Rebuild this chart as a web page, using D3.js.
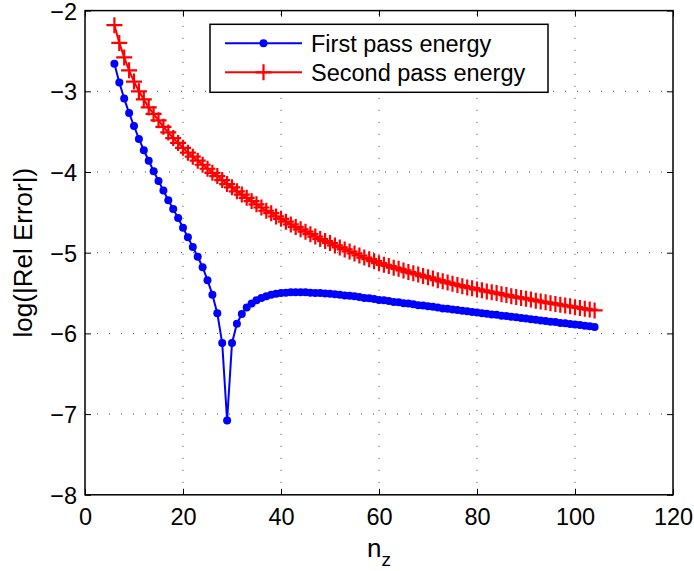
<!DOCTYPE html>
<html>
<head>
<meta charset="utf-8">
<script src="https://cdn.jsdelivr.net/npm/d3@7"></script>
<style>
  html, body { margin: 0; padding: 0; background: #fff; }
  svg { display: block; }
  text { font-family: "Liberation Sans", Arial, Helvetica, sans-serif; fill: #000; }
</style>
</head>
<body>
<svg id="chart" width="694" height="571"></svg>
<script>
// ---- data ----
const nValues = d3.range(6, 105); // 6 .. 104 (x positions of samples)
const firstPass = [
  -2.66, -2.89, -3.09, -3.27, -3.43, -3.59, -3.73, -3.86, -3.99, -4.11,
  -4.23, -4.35, -4.46, -4.57, -4.69, -4.81, -4.93, -5.05, -5.18, -5.34,
  -5.52, -5.75, -6.12, -7.08, -6.12, -5.88, -5.76, -5.68, -5.63, -5.59,
  -5.56, -5.54, -5.52, -5.51, -5.50, -5.495, -5.49, -5.49, -5.49, -5.49,
  -5.495, -5.50, -5.50, -5.505, -5.51, -5.515, -5.52, -5.53, -5.535, -5.54,
  -5.55, -5.56, -5.565, -5.575, -5.585, -5.59, -5.60, -5.61, -5.615, -5.625,
  -5.63, -5.64, -5.65, -5.655, -5.665, -5.67, -5.68, -5.69, -5.695, -5.705,
  -5.71, -5.72, -5.725, -5.735, -5.74, -5.75, -5.755, -5.765, -5.77, -5.78,
  -5.785, -5.795, -5.80, -5.81, -5.815, -5.825, -5.83, -5.84, -5.845, -5.855,
  -5.86, -5.87, -5.875, -5.885, -5.89, -5.895, -5.905, -5.91, -5.92
];
const secondPass = [
  -2.18, -2.40, -2.58, -2.74, -2.88, -3.00, -3.10, -3.20, -3.28, -3.36,
  -3.44, -3.51, -3.58, -3.64, -3.70, -3.76, -3.81, -3.86, -3.91, -3.96,
  -4.01, -4.05, -4.10, -4.15, -4.19, -4.24, -4.28, -4.32, -4.36, -4.40,
  -4.44, -4.48, -4.51, -4.55, -4.58, -4.615, -4.65, -4.68, -4.71, -4.74,
  -4.77, -4.80, -4.83, -4.855, -4.88, -4.91, -4.935, -4.96, -4.985, -5.01,
  -5.035, -5.06, -5.08, -5.105, -5.13, -5.15, -5.165, -5.185, -5.20, -5.22,
  -5.24, -5.255, -5.27, -5.29, -5.305, -5.32, -5.34, -5.355, -5.37, -5.385,
  -5.40, -5.415, -5.43, -5.44, -5.455, -5.465, -5.48, -5.49, -5.50, -5.515,
  -5.525, -5.54, -5.55, -5.56, -5.57, -5.58, -5.595, -5.605, -5.615, -5.625,
  -5.635, -5.645, -5.655, -5.665, -5.675, -5.685, -5.695, -5.705, -5.715
];
const xTickValues = [0, 20, 40, 60, 80, 100, 120];
const yTickValues = [-8, -7, -6, -5, -4, -3, -2];
const seriesNames = ["First pass energy", "Second pass energy"];
const xLabelMain = "n";
const xLabelSub = "z";
const yLabelText = "log(|Rel Error|)";

// ---- layout ----
const svg = d3.select("#chart");
const L = 85, R = 673, T = 10.6, B = 494.8;
const x = d3.scaleLinear().domain([0, 120]).range([L, R]);
const y = d3.scaleLinear().domain([-8, -2]).range([B, T]);
const blue = "#0000ff", red = "#ff0000";
const fs = 23.5;      // tick + legend font
const lfs = 26;       // axis-label font
const minus = v => (v < 0 ? "\u2212" + Math.abs(v) : String(v));

// grid (dotted)
const grid = svg.append("g").attr("stroke", "#444").attr("stroke-width", 1)
  .attr("stroke-dasharray", "1,11");
xTickValues.filter(v => v > 0 && v < 120).forEach(v => {
  grid.append("line").attr("x1", x(v)).attr("x2", x(v)).attr("y1", B).attr("y2", T);
});
yTickValues.filter(v => v > -8 && v < -2).forEach(v => {
  grid.append("line").attr("x1", L).attr("x2", R).attr("y1", y(v)).attr("y2", y(v));
});

// axes via d3 axis generators (inward ticks, labels)
const tl = 6;
const xAxisB = d3.axisBottom(x).tickValues(xTickValues).tickSize(-tl).tickPadding(0).tickFormat(minus);
const gxb = svg.append("g").attr("transform", `translate(0,${B})`).call(xAxisB);
gxb.select(".domain").remove();
gxb.selectAll(".tick text").attr("font-size", fs).attr("dy", null).attr("y", 30);

const xAxisT = d3.axisTop(x).tickValues(xTickValues).tickSize(-tl).tickFormat("");
const gxt = svg.append("g").attr("transform", `translate(0,${T})`).call(xAxisT);
gxt.select(".domain").remove();

const yAxisL = d3.axisLeft(y).tickValues(yTickValues).tickSize(-tl).tickPadding(0).tickFormat(minus);
const gyl = svg.append("g").attr("transform", `translate(${L},0)`).call(yAxisL);
gyl.select(".domain").remove();
gyl.selectAll(".tick text").attr("font-size", fs).attr("x", -8).attr("dy", "0.36em");

const yAxisR = d3.axisRight(y).tickValues(yTickValues).tickSize(-tl).tickFormat("");
const gyr = svg.append("g").attr("transform", `translate(${R},0)`).call(yAxisR);
gyr.select(".domain").remove();

svg.selectAll(".tick line").attr("stroke", "#000").attr("stroke-width", 1);
svg.selectAll("g text").attr("font-family", '"Liberation Sans", Arial, sans-serif').attr("fill", "#000");

// data
const pts1 = nValues.map((n, i) => [n, firstPass[i]]);
const pts2 = nValues.map((n, i) => [n, secondPass[i]]);
const line = d3.line().x(d => x(d[0])).y(d => y(d[1]));

svg.append("path").datum(pts1).attr("d", line).attr("fill", "none")
  .attr("stroke", blue).attr("stroke-width", 2).attr("stroke-linejoin", "round");
svg.append("g").selectAll("circle").data(pts1).join("circle")
  .attr("cx", d => x(d[0])).attr("cy", d => y(d[1])).attr("r", 4).attr("fill", blue);

svg.append("path").datum(pts2).attr("d", line).attr("fill", "none")
  .attr("stroke", red).attr("stroke-width", 2).attr("stroke-linejoin", "round");
const ps = 8;
const plus = svg.append("g").attr("stroke", red).attr("stroke-width", 2.2);
plus.selectAll("path").data(pts2).join("path")
  .attr("d", d => {
    const cx = x(d[0]), cy = y(d[1]);
    return `M${cx - ps},${cy}H${cx + ps}M${cx},${cy - ps}V${cy + ps}`;
  });

// frame
svg.append("rect").attr("x", L).attr("y", T).attr("width", R - L).attr("height", B - T)
  .attr("fill", "none").attr("stroke", "#000").attr("stroke-width", 1.5);

// axis labels
const xl = svg.append("text").attr("x", (L + R) / 2).attr("y", 557).attr("text-anchor", "middle")
  .attr("font-size", lfs);
xl.append("tspan").text(xLabelMain);
xl.append("tspan").attr("dy", 9).attr("font-size", 19).text(xLabelSub);

svg.append("text").attr("transform", `translate(32,${(T + B) / 2}) rotate(-90)`)
  .attr("text-anchor", "middle").attr("font-size", lfs).text(yLabelText);

// legend
const lg = svg.append("g");
lg.append("rect").attr("x", 210).attr("y", 24.3).attr("width", 338).attr("height", 68)
  .attr("fill", "#fff").attr("stroke", "#000").attr("stroke-width", 1.5);
const rows = [43.3, 72.3];
lg.append("line").attr("x1", 225).attr("x2", 302).attr("y1", rows[0]).attr("y2", rows[0])
  .attr("stroke", blue).attr("stroke-width", 2);
lg.append("circle").attr("cx", 263.5).attr("cy", rows[0]).attr("r", 4).attr("fill", blue);
lg.append("line").attr("x1", 225).attr("x2", 302).attr("y1", rows[1]).attr("y2", rows[1])
  .attr("stroke", red).attr("stroke-width", 2);
lg.append("path").attr("d", `M${263.5 - ps},${rows[1]}H${263.5 + ps}M263.5,${rows[1] - 8}V${rows[1] + 8}`)
  .attr("stroke", red).attr("stroke-width", 2.2);
seriesNames.forEach((s, i) => {
  lg.append("text").attr("x", 311).attr("y", rows[i] + 8.4).attr("font-size", fs).text(s);
});
</script>
</body>
</html>
